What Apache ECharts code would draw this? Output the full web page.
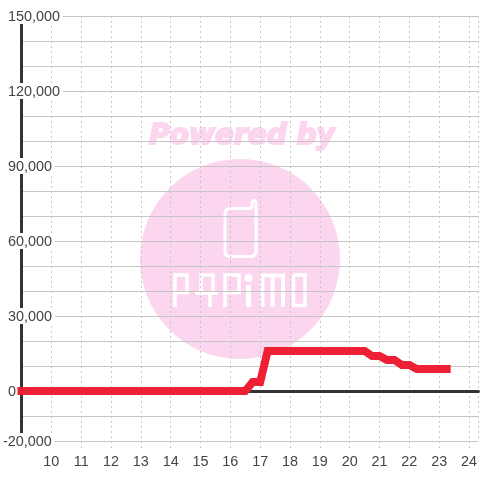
<!DOCTYPE html>
<html><head><meta charset="utf-8">
<style>html,body{margin:0;padding:0;background:#fff}#c{width:480px;height:480px}</style>
<script src="https://cdn.jsdelivr.net/npm/echarts@6/dist/echarts.min.js"></script>
</head><body><div id="c"></div>
<script>
const hours = [9,10,11,12,13,14,15,16,16.5,16.75,17,17.25,18,19,20,20.5,20.75,21,21.25,21.5,21.75,22,22.25,22.5,23,23.25];
const values = [0,0,0,0,0,0,0,0,0,3600,3600,16000,16000,16000,16000,16000,14000,14000,12400,12400,10400,10400,8800,8800,8800,8800];
const labelledY = [-20000,0,30000,60000,90000,120000,150000];
const textColor = '#444';
const gridColor = '#c6c6c6';
const pink = '#fcd5ee';
const chart = echarts.init(document.getElementById('c'), null, {renderer:'canvas'});
const logoLine = (points, w) => ({type:'polyline', z:-9, shape:{points}, style:{fill:null, stroke:'#fff', lineWidth:w||3.5, lineJoin:'miter'}});
chart.setOption({
  animation:false,
  backgroundColor:'#fff',
  textStyle:{fontFamily:'"Liberation Sans"'},
  grid:{left:20.5, right:0, top:16, bottom:39, containLabel:false},
  graphic:{elements:[
    {type:'circle', z:-10, shape:{cx:240, cy:259, r:100}, style:{fill:pink}},
    {type:'text', z:-10, x:242, y:137, style:{text:'Powered by', fill:pink, stroke:pink, lineWidth:2, font:'italic bold 28px "DejaVu Sans"', textAlign:'center', textVerticalAlign:'middle'}},
    logoLine([[252,208.5],[229,208.5],[226,210],[225,213],[225,252],[226,255],[229,256.5],[252,256.5],[255,255],[256,252],[256,202.5],[255.3,201],[254,200.5],[252.7,201],[252,202.5],[252,208.5]],3),
    logoLine([[175,307],[175,275],[187,275],[187,292.5],[175,292.5]]),
    logoLine([[201,293],[201,275],[213,275],[213,293]]),
    logoLine([[195,293],[218,293]]),
    logoLine([[210,293],[210,307]]),
    logoLine([[225,307],[225,275],[239,275],[239,292.5],[225,292.5]]),
    logoLine([[248.5,285],[248.5,307]],5),
    {type:'circle', z:-9, shape:{cx:248.5, cy:278, r:4}, style:{fill:'#fff'}},
    logoLine([[262.5,307],[262.5,275.5],[283,275.5],[283,307]],4),
    logoLine([[272.5,275.5],[272.5,307]],4),
    logoLine([[293.5,275],[305,275],[305,305.5],[293.5,305.5],[293.5,275]])
  ]},
  xAxis:[{
    type:'value', min:9, max:24.3167, interval:1,
    axisLine:{show:false, onZero:false},
    axisTick:{show:true, length:8, lineStyle:{color:gridColor, type:[2,3], width:1}},
    axisLabel:{show:true, fontSize:14.4, color:textColor, margin:14, showMinLabel:false, showMaxLabel:false,
      formatter:v => Number.isInteger(v) && v>9 ? String(v) : ''},
    splitLine:{show:true, lineStyle:{color:gridColor, type:[2,3], width:1}}
  },{
    type:'value', min:9, max:24.3167, interval:1,
    axisLine:{show:true, onZero:true, lineStyle:{color:'#333', width:3}},
    axisTick:{show:false}, axisLabel:{show:false}, splitLine:{show:false}
  }],
  yAxis:{
    type:'value', min:-20000, max:150000, interval:10000,
    axisLine:{show:true, onZero:false, lineStyle:{color:'#333', width:3}},
    axisTick:{show:false},
    axisLabel:{show:true, align:'left', margin:18.5, color:textColor, fontSize:14.4,
      showMinLabel:true, showMaxLabel:true,
      formatter:v => {
        if(!labelledY.includes(v)) return '';
        const s = v.toLocaleString('en-US');
        return v<0 ? '{n|'+s+'}' : '{p|'+s+'}';
      },
      rich:{
        n:{fontSize:14.4, color:textColor, backgroundColor:'#fff', lineHeight:10, padding:[2,3,0,0]},
        p:{fontSize:14.4, color:textColor, backgroundColor:'#fff', lineHeight:10, padding:[2,3,0,5]}
      }},
    splitLine:{show:true, lineStyle:{color:gridColor, width:1}}
  },
  series:[{
    type:'line', xAxisIndex:0, yAxisIndex:0, clip:false, showSymbol:false, symbol:'none', smooth:false,
    data:hours.map((h,i)=>[h,values[i]]),
    lineStyle:{color:'#ee2036', width:8, cap:'square', join:'miter'}, z:5
  }]
});
</script></body></html>
